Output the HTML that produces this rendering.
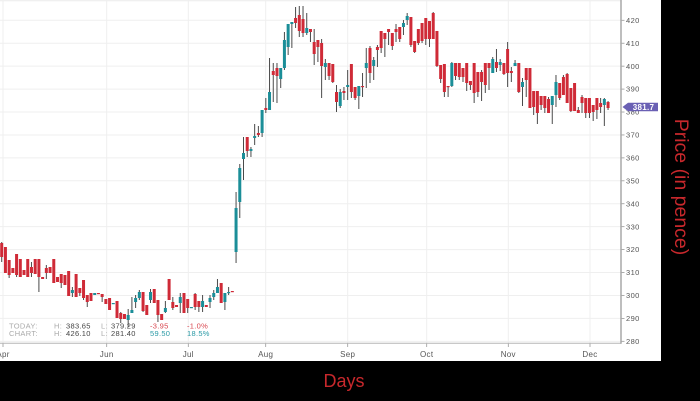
<!DOCTYPE html>
<html><head><meta charset="utf-8">
<style>
html,body{margin:0;padding:0;background:#000;width:700px;height:401px;overflow:hidden}
svg{display:block}
text{font-family:"Liberation Sans",sans-serif}
</style></head>
<body>
<svg width="700" height="401" viewBox="0 0 700 401" xmlns="http://www.w3.org/2000/svg">
<rect x="0" y="0" width="700" height="401" fill="#000"/>
<rect x="0" y="0" width="661" height="361" fill="#fff"/>
<g id="grid"></g>
<g id="candles"></g>
<g id="axes"></g>
<g font-size="7.5" letter-spacing="0.3">
<text x="9" y="328.5" fill="#aaa">TODAY:</text>
<text x="54" y="328.5" fill="#aaa">H:</text><text x="66" y="328.5" fill="#444">383.65</text>
<text x="101" y="328.5" fill="#aaa">L:</text><text x="111" y="328.5" fill="#444">379.29</text>
<text x="150" y="328.5" fill="#d9464f">-3.95</text>
<text x="187" y="328.5" fill="#d9464f">-1.0%</text>
<text x="9" y="336" fill="#aaa">CHART:</text>
<text x="54" y="336" fill="#aaa">H:</text><text x="66" y="336" fill="#444">426.10</text>
<text x="101" y="336" fill="#aaa">L:</text><text x="111" y="336" fill="#444">281.40</text>
<text x="150" y="336" fill="#2b9aa6">59.50</text>
<text x="187" y="336" fill="#2b9aa6">18.5%</text>
</g>
<polygon points="622.5,107 628,102.7 658,102.7 658,111.3 628,111.3" fill="#6a60b4"/>
<text x="643.5" y="110.2" font-size="8" font-weight="bold" fill="#fff" text-anchor="middle" letter-spacing="0.3">381.7</text>
<text x="344" y="387" font-size="18" fill="#c8282c" text-anchor="middle">Days</text>
<text transform="translate(675,187) rotate(90)" font-size="19.5" fill="#c8282c" text-anchor="middle">Price (in pence)</text>
</svg>
<script>
(function(){
var NS="http://www.w3.org/2000/svg";
function el(p,t,a){var e=document.createElementNS(NS,t);for(var k in a)e.setAttribute(k,a[k]);p.appendChild(e);return e;}
function Y(p){return 20.3+(420-p)*2.293;}
var grid=document.getElementById('grid'),axes=document.getElementById('axes'),cg=document.getElementById('candles');
el(grid,'line',{x1:0,y1:0.7,x2:621,y2:0.7,stroke:'#ececec','stroke-width':1});
for(var p=280;p<=420;p+=10){
  var y=Y(p);
  el(grid,'line',{x1:0,y1:y,x2:621,y2:y,stroke:'#efefef','stroke-width':1});
  el(axes,'line',{x1:621,y1:y,x2:624.5,y2:y,stroke:'#999','stroke-width':0.8});
  var t=el(axes,'text',{x:626,y:y+2.6,'font-size':7.5,fill:'#555','letter-spacing':0.4});
  t.textContent=p;
}
var months=[[3,'Apr'],[106.7,'Jun'],[188.3,'Jul'],[265.7,'Aug'],[347.7,'Sep'],[426.7,'Oct'],[508.3,'Nov'],[590,'Dec']];
months.forEach(function(m){
  el(grid,'line',{x1:m[0],y1:0,x2:m[0],y2:343,stroke:'#efefef','stroke-width':1});
  el(axes,'line',{x1:m[0],y1:343,x2:m[0],y2:347,stroke:'#999','stroke-width':0.8});
  var t=el(axes,'text',{x:m[0],y:357,'font-size':8,fill:'#555','text-anchor':'middle','letter-spacing':0.3});
  t.textContent=m[1];
});
el(axes,'line',{x1:0,y1:343.3,x2:621,y2:343.3,stroke:'#b5b5b5','stroke-width':1});
el(axes,'line',{x1:621,y1:0,x2:621,y2:343.8,stroke:'#a8a8a8','stroke-width':1.5});
var S="r243,257,242,262 r247,273,247,273 r260,275,260,278 r268,273,268,273 r254,275,254,277 r259,277,259,277 r270,275,270,275 r259,277,259,277 r267,273,262,277 r259,274,259,274 r259,277,259,292 r277,279,277,279 r268,273,265,279 r267,273,267,273 r259,283,259,283 r277,282,277,282 r274,283,274,288 r275,285,275,285 r271,296,271,296 t290,293,287,297 r274,297,274,297 r288,293,288,296 r280,298,280,300 r295,302,295,307 r293,301,293,301 t293,295,293,295 r293,294,293,294 r294,297,294,302 r299,304,299,304 r298,310,298,310 t303,304,303,304 r301,318,301,318 r313,319,312,323 r314,319,314,319 t315,320,309,327 t310,313,297,313 t298,302,295,308 t292,298,290,300 r292,311,292,312 r305,315,305,315 t292,300,289,303 r289,303,289,303 r300,315,300,322 r314,320,314,320 t308,312,301,313 r279,300,279,300 r302,308,297,310 r305,307,305,307 t297,303,293,313 r293,313,293,313 r299,308,299,313 t307,308,307,308 r294,307,293,310 r301,307,301,312 t301,307,295,312 r305,307,305,307 t298,302,295,308 t293,297,290,300 t287,293,279,293 r283,303,283,303 t293,302,293,310 t292,293,287,295 r291,292,291,292 t208,252,192,263 t168,202,164,218 t153,159,137,180 r137,151,137,157 t149,151,147,157 t136,138,124,145 r133,135,126,137 t110,133,110,137 r108,110,98,113 t92,110,58,110 r71,75,63,102 r68,76,63,103 t68,79,68,88 t40,68,32,70 t24,47,24,55 t22,24,22,48 r18,23,7,28 r15,31,6,37 r19,33,6,37 t28,33,13,35 r29,32,29,42 r42,54,29,65 r40,47,40,62 r43,66,39,98 t63,67,59,80 r63,76,63,80 r64,82,64,83 r92,102,85,112 t92,106,89,108 r91,93,87,100 t85,87,70,100 r64,92,64,98 r87,98,87,100 t86,96,86,109 r86,87,73,97 t63,68,48,88 r48,73,46,83 t60,66,57,80 r47,50,45,67 r31,48,31,53 r33,39,33,57 r29,32,29,45 r33,46,33,50 r29,32,24,42 r27,39,27,42 t23,27,20,35 t16,20,13,25 r17,45,17,47 r41,52,41,53 r29,43,29,45 r23,41,23,43 r18,39,18,45 r21,39,21,47 r13,39,12,39 r31,66,31,67 r65,79,65,83 r64,92,64,97 r86,87,86,97 t63,86,62,87 r63,76,63,80 r63,77,63,80 r68,77,68,82 r63,83,63,91 r81,85,81,90 r63,93,63,103 r72,92,72,97 r72,82,70,101 r63,85,63,93 r63,68,63,90 t59,73,57,73 r62,68,49,72 t62,65,59,71 r63,74,63,75 r49,73,42,87 r71,73,67,82 t63,66,60,66 r63,92,63,93 t82,87,78,106 r68,80,68,97 r68,108,68,108 r91,107,91,115 r91,113,91,124 r96,105,96,110 r96,108,96,113 r99,113,97,113 t96,105,96,124 t82,95,75,107 r83,98,83,100 r77,95,75,95 r74,103,73,103 r88,111,88,112 r83,111,83,111 r110,113,107,113 r97,103,95,113 r98,113,98,118 r98,113,98,118 r105,112,105,121 r98,110,98,119 r103,107,98,113 t99,105,98,126 r102,108,101,110";
S.split(' ').forEach(function(s,i){
  var up=s.charAt(0)==='t',v=s.slice(1).split(',').map(Number);
  var x=1.7+i*3.72;
  el(cg,'line',{x1:x,y1:v[2],x2:x,y2:v[3],stroke:'#4a4a4a','stroke-width':1});
  el(cg,'rect',{x:x-1.5,y:v[0],width:3,height:Math.max(v[1]-v[0],1.2),fill:up?'#1b8e98':'#cf2a37'});
});
})();
</script>
</body></html>
